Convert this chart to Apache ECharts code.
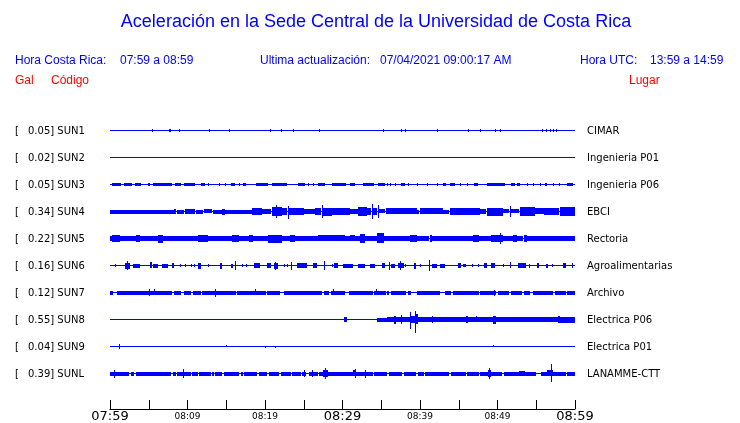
<!DOCTYPE html>
<html>
<head>
<meta charset="utf-8">
<script src="https://cdn.jsdelivr.net/npm/echarts@6/dist/echarts.min.js"></script>
<style>
html,body{margin:0;padding:0;background:#fff;}
#chart{width:740px;height:423px;}
</style>
</head>
<body>
<div id="chart"></div>
<script>
// ---------- data ----------
const codes  = ['SUN1','SUN2','SUN3','SUN4','SUN5','SUN6','SUN7','SUN8','SUN9','SUNL'];
const peaks  = [0.05, 0.02, 0.05, 0.34, 0.22, 0.16, 0.12, 0.55, 0.04, 0.39];
const places = ['CIMAR','Ingenieria P01','Ingenieria P06','EBCI','Rectoria','Agroalimentarias','Archivo','Electrica P06','Electrica P01','LANAMME-CTT'];
const tickLabels = ['07:59','','08:09','','08:19','','08:29','','08:39','','08:49','','08:59'];
const bigTickLabels = ['07:59','08:29','08:59'];

// envelope segments per station: [startMin, endMin, upAmp(Gal), downAmp(Gal, optional)]
const sun1Segs = [[5.4,5.5,.04],[7.6,7.9,.05],[8.9,9.0,.04],[12.8,12.9,.045],[15.4,15.5,.04],[20.6,20.7,.04],[22.1,22.2,.045],[23.6,23.7,.045],[27.0,27.1,.04],[35.2,35.3,.045],[37.5,37.6,.045],[38.1,38.2,.045],[42.2,42.3,.045],[46.2,46.3,.045],[47.7,47.8,.04],[49.7,49.8,.045],[50.3,50.4,.045],[55.7,55.8,.045],[56.2,56.3,.045],[56.8,56.9,.045],[57.1,57.2,.04],[57.6,57.7,.04]];
const sun2Segs = [];
const sun3Segs = [[0.3,1.4,.045],[1.8,2.8,.045],[3.2,4.0,.045],[4.9,5.2,.045],[5.6,8.0,.045],[8.4,9.2,.045],[9.5,11.0,.045],[11.7,12.3,.045],[12.7,12.8,.045],[14.0,14.1,.045],[14.8,14.9,.045],[15.6,16.1,.045],[16.6,16.7,.045],[17.2,17.5,.045],[18.9,20.4,.045],[20.9,22.8,.045],[24.3,25.2,.045],[25.6,25.7,.045],[26.2,26.3,.045],[26.9,27.8,.045],[28.6,30.5,.045],[31.0,31.6,.045],[32.6,34.0,.05],[34.6,35.5,.045],[35.7,35.8,.045],[36.1,36.2,.045],[36.8,36.9,.045],[37.6,38.1,.045],[38.5,38.6,.045],[39.6,39.7,.045],[40.9,41.0,.045],[42.2,42.3,.045],[43.0,43.4,.045],[43.9,44.5,.045],[45.2,45.3,.045],[46.0,46.1,.045],[47.0,47.5,.045],[48.6,51.0,.05],[51.8,52.3,.045],[52.5,52.9,.045],[53.8,53.9,.045],[54.6,54.7,.045],[55.5,55.6,.045],[56.1,56.4,.045],[57.2,57.3,.045],[57.9,58.0,.045],[59.0,59.8,.045]];
const sun4Segs = [[0,8.2,.065],[8.3,8.5,.09],[8.6,9.6,.06],[9.7,11.0,.085],[11.1,12.0,.06],[12.1,13.2,.07],[13.3,14.4,.065],[14.5,14.8,.1],[14.9,18.3,.065],[18.3,19.6,.13],[19.6,20.8,.09],[20.9,22.2,.17],[21.4,21.6,.26],[22.2,22.9,.12],[22.95,23.1,.22,.3],[23.1,25.0,.12],[25.0,26.4,.09],[26.4,27.2,.14],[27.3,27.5,.26],[27.5,28.6,.15],[28.6,30.3,.12],[30.3,31.0,.12],[31.0,32.0,.09],[32.0,33.1,.17],[33.1,33.7,.12],[33.8,33.9,.3],[33.9,34.5,.12],[34.55,34.65,.26],[34.7,35.5,.07],[35.6,39.6,.11],[39.6,39.9,.06],[40.0,43.0,.11],[43.0,43.8,.06],[43.9,47.7,.13],[47.7,48.5,.09],[48.6,50.7,.15],[50.7,51.5,.07],[51.55,51.65,.22],[51.7,52.8,.07],[52.9,54.8,.17],[54.8,56.0,.11],[56.0,57.9,.12],[58.0,60.0,.17]];
const sun5Segs = [[0,0.2,.085],[0.2,1.3,.13],[1.3,3.4,.085],[3.4,3.9,.13],[3.9,6.2,.085],[6.2,6.9,.15],[6.9,11.4,.085],[11.4,12.7,.13],[12.7,15.7,.085],[15.7,16.6,.13],[16.6,17.9,.085],[17.9,18.5,.12],[18.5,20.4,.085],[20.4,22.2,.15],[22.2,23.2,.085],[23.2,23.9,.13],[23.9,26.9,.085],[26.9,30.3,.11],[30.3,31.0,.085],[31.0,31.6,.11],[31.6,32.3,.085],[32.3,32.9,.17],[32.9,34.4,.085],[34.4,35.3,.2],[35.3,38.7,.085],[38.7,39.6,.13],[39.6,41.2,.085],[41.3,41.5,.13],[41.5,46.8,.085],[46.9,47.6,.13],[47.6,49.2,.085],[49.2,50.7,.13],[50.35,50.45,.22],[50.7,52.0,.085],[52.0,52.5,.13],[52.5,53.3,.085],[53.4,53.8,.13],[53.8,60,.085]];
const sun6Segs = [[0.6,0.7,.04],[1.9,2.6,.1],[2.25,2.35,.17],[3.0,3.9,.06],[5.2,5.4,.11],[5.6,6.2,.06],[6.7,7.5,.06],[8.0,8.3,.08],[9.0,9.1,.05],[9.7,9.8,.05],[10.4,10.5,.05],[10.9,11.0,.05],[11.3,11.8,.1],[12.6,12.7,.04],[14.2,14.5,.1],[15.6,15.9,.06],[16.1,16.2,.17],[17.0,17.1,.05],[17.6,17.7,.05],[18.6,19.4,.08],[20.3,20.8,.08],[21.1,21.7,.1],[21.35,21.45,.15],[22.4,22.5,.05],[22.8,22.9,.05],[23.35,23.45,.15],[24.1,25.4,.08],[26.2,26.7,.08],[27.65,27.75,.17],[28.6,28.7,.05],[28.9,29.4,.08],[30.1,31.4,.06],[32.0,32.9,.06],[33.5,34.2,.06],[35.1,35.5,.08],[35.95,36.05,.15],[36.3,36.8,.06],[37.2,37.9,.08],[37.45,37.55,.17],[38.0,38.1,.05],[39.2,39.5,.1],[40.0,40.1,.05],[41.15,41.25,.22],[41.5,42.2,.06],[42.6,43.2,.06],[44.9,45.3,.08],[45.6,45.9,.05],[46.7,46.8,.05],[47.5,47.6,.05],[48.2,48.6,.08],[49.2,49.7,.08],[50.7,50.8,.05],[51.55,51.65,.11],[52.7,53.7,.08],[54.0,54.2,.06],[55.1,55.3,.08],[56.3,56.5,.06],[57.0,57.1,.05],[58.4,58.8,.08],[59.6,59.8,.08]];
const sun7Segs = [[0,0.4,.065],[0.9,8.0,.065],[8.2,9.2,.065],[9.5,10.5,.065],[10.7,11.7,.065],[11.9,16.2,.065],[16.4,20.1,.065],[20.3,21.9,.065],[22.4,27.4,.065],[27.6,28.3,.065],[28.5,30.3,.065],[30.8,33.9,.065],[34.1,35.6,.065],[35.8,36.0,.065],[36.2,38.2,.065],[38.4,38.9,.065],[39.6,42.6,.065],[43.2,44.0,.065],[44.2,47.6,.065],[47.8,49.8,.065],[50.0,51.5,.065],[51.7,53.2,.065],[53.4,54.2,.065],[54.6,57.2,.065],[57.4,58.8,.065],[59.0,60,.065],[5.05,5.15,.13],[5.65,5.75,.11],[13.55,13.65,.15],[18.75,18.85,.11],[28.75,28.85,.11],[34.3,34.4,.11],[49.5,49.6,.1]];
const sun8Segs = [[30.2,30.6,.085],[34.4,35.7,.065],[35.7,37.9,.085],[36.6,36.9,.15],[37.55,37.65,.17],[37.9,38.7,.085],[38.75,38.85,.3,.4],[38.9,39.3,.12],[39.35,39.45,.35,.55],[39.45,39.7,.2],[39.7,41.5,.085],[41.55,41.65,.13],[41.7,45.9,.085],[45.9,46.2,.13],[46.2,47.2,.085],[47.2,47.4,.11],[47.4,49.4,.085],[49.4,49.8,.15],[49.8,57.8,.085],[57.8,58.0,.13],[58.0,60,.1]];
const sun9Segs = [[1.15,1.25,.08],[15.0,15.1,.05,0],[20.05,20.15,0,.05],[21.35,21.45,0,.05],[49.4,49.5,.05,0]];
const sunLSegs = [[0,2.5,.065],[2.7,3.1,.065],[3.3,7.9,.065],[8.1,8.5,.065],[8.7,10.4,.065],[10.6,11.3,.065],[11.5,13.0,.065],[13.2,13.4,.065],[13.6,14.5,.065],[14.7,16.7,.065],[16.9,17.1,.065],[17.3,19.0,.065],[19.2,20.3,.065],[20.5,21.8,.065],[22.0,23.3,.065],[23.5,24.6,.065],[24.8,25.3,.065],[25.7,26.8,.065],[27.0,33.9,.065],[34.1,35.8,.065],[36.0,37.7,.065],[37.9,39.5,.065],[39.7,40.5,.065],[40.7,43.8,.065],[44.0,45.9,.065],[46.1,47.6,.065],[47.8,50.6,.065],[50.8,55.0,.065],[55.6,58.8,.065],[59.0,60,.065],[0.55,0.65,.15],[9.45,9.55,.17],[25.0,25.1,.13],[26.05,26.15,.13],[27.5,28.1,.13],[27.75,27.85,.22],[31.4,31.8,.11],[31.55,31.65,.17],[32.85,32.95,.15],[48.8,49.2,.13],[48.95,49.05,.22],[52.8,53.6,.09],[56.4,57.2,.11],[56.85,56.95,.39,.36]];

const segsByStation = [sun1Segs,sun2Segs,sun3Segs,sun4Segs,sun5Segs,sun6Segs,sun7Segs,sun8Segs,sun9Segs,sunLSegs];

// ---------- layout ----------
const W = 740, H = 423;
const PX_PER_GAL = 23, ROW_PX = 27, GRID_TOP = 103, GRID_BOTTOM = 14, GRID_LEFT = 110, GRID_RIGHT = 165;
const X_MIN = 0, X_MAX = 60, X_STEP = 5;
const gridH = H - GRID_TOP - GRID_BOTTOM;
const ROW_GAL = ROW_PX / PX_PER_GAL;
const Y_MAX = ROW_GAL;
const Y_MIN = Y_MAX - gridH / PX_PER_GAL;
const BLUE = '#0000ff', RED = '#ff0000';
const HFONT = '"Liberation Sans", Arial, sans-serif';
const LFONT = '"DejaVu Sans", sans-serif';

const items = [];
segsByStation.forEach((segs, i) => {
  items.push([X_MIN, X_MAX, 0, 0, i]);
  segs.forEach(s => items.push([s[0], s[1], s[2], s.length > 3 ? s[3] : s[2], i]));
});

const graphics = [];
function txt(x, y, text, opt) {
  graphics.push({type:'text', x:x, y:y, silent:true,
    style: Object.assign({text:text, textVerticalAlign:'middle', textAlign:'left'}, opt)});
}
txt(376, 22, 'Aceleración en la Sede Central de la Universidad de Costa Rica', {fill:BLUE, font:'18px '+HFONT, textAlign:'center'});
const sub = {fill:BLUE, font:'12px '+HFONT};
txt(15, 61, 'Hora Costa Rica:', sub);
txt(120, 61, '07:59 a 08:59', sub);
txt(260, 61, 'Ultima actualización:', sub);
txt(380, 61, '07/04/2021 09:00:17 AM', sub);
txt(580, 61, 'Hora UTC:', sub);
txt(650, 61, '13:59 a 14:59', sub);
const red = {fill:RED, font:'12px '+HFONT};
txt(15, 81, 'Gal', red);
txt(51, 81, 'Código', red);
txt(629, 81, 'Lugar', red);
codes.forEach((c, i) => {
  const y = GRID_TOP + ROW_PX * (i + 1) + 1;
  const f = {fill:'#000', font:'10px '+LFONT};
  txt(15, y, '[', f);
  txt(28, y, peaks[i].toFixed(2) + '] ' + c, f);
  txt(587, y, places[i], f);
});

const chart = echarts.init(document.getElementById('chart'), null, {renderer:'canvas', width:W, height:H});
chart.setOption({
  animation: false,
  backgroundColor: '#fff',
  grid: {left: GRID_LEFT, right: GRID_RIGHT, top: GRID_TOP, bottom: GRID_BOTTOM, containLabel: false},
  xAxis: {
    type: 'value', min: X_MIN, max: X_MAX, interval: X_STEP, position: 'bottom',
    axisLine: {show: true, onZero: false, lineStyle: {color: '#000', width: 1}},
    axisTick: {show: true, inside: true, length: 9, lineStyle: {color: '#000', width: 1}},
    splitLine: {show: false},
    axisLabel: {
      margin: 1, showMinLabel: true, showMaxLabel: true,
      formatter: function (v) {
        const lab = tickLabels[Math.round((v - X_MIN) / X_STEP)] || '';
        if (!lab) return '';
        return bigTickLabels.indexOf(lab) >= 0 ? '{big|' + lab + '}' : '{small|' + lab + '}';
      },
      rich: {
        big: {fontFamily: 'DejaVu Sans', fontSize: 13, color: '#000', lineHeight: 13},
        small: {fontFamily: 'DejaVu Sans', fontSize: 9, color: '#000', lineHeight: 13}
      }
    }
  },
  yAxis: {type: 'value', min: Y_MIN, max: Y_MAX, show: false},
  series: [{
    type: 'custom',
    clip: false,
    data: items,
    encode: {x: [0, 1], y: 2},
    renderItem: function (params, api) {
      const t0 = api.value(0), t1 = api.value(1), up = api.value(2), dn = api.value(3), i = api.value(4);
      const base = -i * ROW_GAL;
      const pb = api.coord([t0, base]);
      const pu = api.coord([t0, base + up]);
      const pd = api.coord([t1, base - dn]);
      const basePx = Math.round(pb[1]);
      const upPx = pb[1] - pu[1];
      const dnPx = pd[1] - pb[1];
      const x = Math.round(pb[0]);
      const w = Math.max(1, Math.round(pd[0]) - x);
      const y = basePx - Math.round(upPx);
      const h = Math.max(1, Math.round(upPx + dnPx + 1));
      return {type: 'rect', shape: {x: x, y: y, width: w, height: h}, style: {fill: BLUE}, silent: true};
    }
  }],
  graphic: graphics
});
</script>
</body>
</html>
